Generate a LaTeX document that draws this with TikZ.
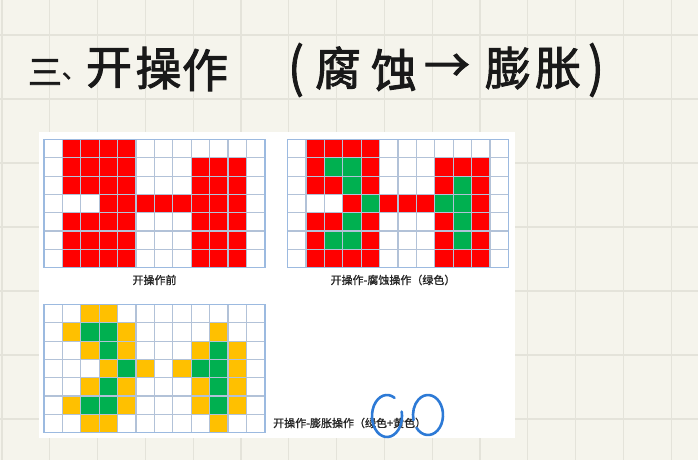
\documentclass[tikz,border=0pt]{standalone}
\usepackage{fontspec}
\newfontfamily\cjk{Noto Sans CJK SC}
\newfontfamily\cjkb[FakeBold=1.2]{Noto Sans CJK SC}
\newfontfamily\cjkt[FakeBold=2]{Noto Sans CJK SC}
\definecolor{bg}{HTML}{F5F4EC}
\definecolor{bgline}{HTML}{E4E3DA}
\definecolor{c0}{HTML}{FFFFFF}
\definecolor{c1}{HTML}{FF0000}
\definecolor{c2}{HTML}{00B050}
\definecolor{c3}{HTML}{FFC000}
\definecolor{cellline}{HTML}{B2C2D8}
\definecolor{outerline}{HTML}{9CBAE0}
\definecolor{penblue}{HTML}{2D7AD6}
\tikzset{
  bgrule/.style={draw=bgline, line width=1.3pt},
  cell/.style={draw=cellline, line width=1.2pt},
  outerbox/.style={draw=outerline, line width=1.4pt},
  lab/.style={font=\cjkb\fontsize{11}{11}\selectfont, text=black!85, inner sep=0pt},
  ttl/.style={font=\cjkt\fontsize{46}{46}\selectfont, text=black!90, inner sep=0pt},
  ttlsmall/.style={font=\cjkt\fontsize{34}{34}\selectfont, text=black!90, inner sep=0pt},
  ttltiny/.style={font=\cjkt\fontsize{24}{24}\selectfont, text=black!90, inner sep=0pt},
  pen/.style={draw=penblue, line width=2.6pt, line cap=round}
}
\newcommand\drawpixgrid[3]{%
  \foreach \row [count=\r from 0] in {#3} {
    \foreach \v [count=\k from 0] in \row {
      \filldraw[cell, fill=c\v] ({#1+\k*18.4},{#2+\r*18.3}) rectangle ++(18.4,18.3);
    }
  }
  \draw[outerbox] (#1,#2) rectangle ++(220.8,128.1);
}
\begin{document}
\begin{tikzpicture}[x=1pt,y=-1pt]
\useasboundingbox (0,0) rectangle (698,460);
\fill[bg] (0,0) rectangle (698,460);
\foreach \x in {2,49.8,...,698} \draw[bgrule] (\x,0) -- (\x,460);
\foreach \y in {35,99,...,460} \draw[bgrule] (0,\y) -- (698,\y);
% title
\node[ttlsmall] (t1) at (45,72) {三};
\node[ttltiny] (t2) at (74,76) {、};
\node[ttl] (t3) at (109,68) {开};
\node[ttl] (t4) at (158.5,68) {操};
\node[ttl] (t5) at (205,70) {作};
\node[ttl, yscale=1.15] (t6) at (296,70) {(};
\node[ttl] (t7) at (338,68) {腐};
\node[ttl] (t8) at (394,70) {蚀};
\node[ttl] (t9) at (447,68) {→};
\node[ttl] (t10) at (508,68) {膨};
\node[ttl] (t11) at (558,68) {胀};
\node[ttl, yscale=1.15] (t12) at (596,70) {)};
% panel
\fill[white] (39,132) rectangle (515,438);
% grids
\drawpixgrid{44}{139.5}{
 {0,1,1,1,1,0,0,0,0,0,0,0},
 {0,1,1,1,1,0,0,0,1,1,1,0},
 {0,1,1,1,1,0,0,0,1,1,1,0},
 {0,0,0,1,1,1,1,1,1,1,1,0},
 {0,1,1,1,1,0,0,0,1,1,1,0},
 {0,1,1,1,1,0,0,0,1,1,1,0},
 {0,1,1,1,1,0,0,0,1,1,1,0}}
\drawpixgrid{287.5}{139.5}{
 {0,1,1,1,1,0,0,0,0,0,0,0},
 {0,1,2,2,1,0,0,0,1,1,1,0},
 {0,1,1,2,1,0,0,0,1,2,1,0},
 {0,0,0,1,2,1,1,1,2,2,1,0},
 {0,1,1,2,1,0,0,0,1,2,1,0},
 {0,1,2,2,1,0,0,0,1,2,1,0},
 {0,1,1,1,1,0,0,0,1,1,1,0}}
\drawpixgrid{44}{304.5}{
 {0,0,3,3,0,0,0,0,0,0,0,0},
 {0,3,2,2,3,0,0,0,0,3,0,0},
 {0,0,3,2,3,0,0,0,3,2,3,0},
 {0,0,0,3,2,3,0,3,2,2,3,0},
 {0,0,3,2,3,0,0,0,3,2,3,0},
 {0,3,2,2,3,0,0,0,3,2,3,0},
 {0,0,3,3,0,0,0,0,0,3,0,0}}
% labels
\node[lab] (l1) at (154.5,280) {开操作前};
\node[lab] (l2) at (393,280) {开操作-腐蚀操作（绿色）};
\node[lab, anchor=west] (l3) at (273,423) {开操作-膨胀操作（绿色+黄色）};
% hand-drawn blue loops
\coordinate (o1) at (387,416);
\coordinate (o2) at (428,415);
\draw[pen] (o1) ++(-60:15 and 21) arc[start angle=-60, end angle=-372, x radius=15, y radius=21];
\draw[pen] (o2) ++(140:15 and 20) arc[start angle=140, end angle=-195, x radius=15, y radius=20];
\end{tikzpicture}
\end{document}
